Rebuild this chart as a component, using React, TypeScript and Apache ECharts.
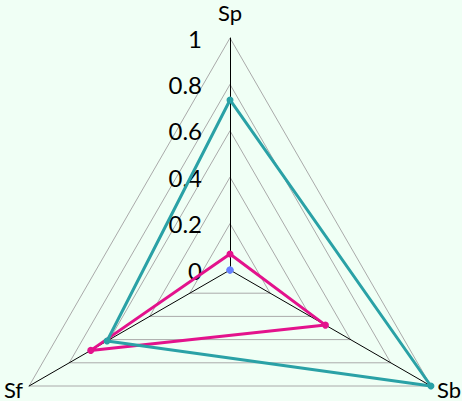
import React, { useEffect, useRef } from "react";
import * as echarts from "echarts";

const indicators = ["Sp", "Sf", "Sb"];
const tealValues = [0.733, 0.612, 1.0];
const magentaValues = [0.069, 0.693, 0.475];
const blueValues = [0, 0, 0];

export default function App() {
  const ref = useRef<HTMLDivElement>(null);
  useEffect(() => {
    document.body.style.margin = "0";
    const chart = echarts.init(ref.current!, null, { renderer: "svg" });
    chart.setOption({
      animation: false,
      backgroundColor: "#f0fff5",
      grid: { left: 230, top: 38, width: 10, height: 232, containLabel: false },
      xAxis: { type: "value", show: false },
      yAxis: {
        type: "value",
        min: 0,
        max: 1,
        interval: 0.2,
        axisLine: { show: false },
        axisTick: { show: false },
        splitLine: { show: false },
        axisLabel: {
          color: "#000",
          fontSize: 24,
          fontFamily: "Lato",
          margin: 28,
          formatter: (v: number) => String(Math.round(v * 10) / 10),
        },
      },
      radar: {
        center: [230, 270],
        radius: 232,
        startAngle: 90,
        splitNumber: 5,
        shape: "polygon",
        nameGap: 8,
        axisName: { color: "#000", fontSize: 22, lineHeight: 21, fontFamily: "Lato" },
        axisLine: { lineStyle: { color: "#000", width: 1 } },
        splitLine: { lineStyle: { color: "#aaaaaa", width: 1 } },
        splitArea: { show: false },
        axisTick: { show: false },
        axisLabel: { show: false },
        indicator: indicators.map((name, i) => ({
          name,
          min: 0,
          max: 1,
          nameGap: i === 0 ? 15 : 7,
        })),
      },
      series: [
        {
          type: "radar",
          symbol: "circle",
          symbolSize: 7,
          data: [
            {
              value: magentaValues,
              lineStyle: { color: "#e3128c", width: 3 },
              itemStyle: { color: "#e3128c" },
            },
            {
              value: tealValues,
              lineStyle: { color: "#2aa1a6", width: 3 },
              itemStyle: { color: "#2aa1a6" },
            },
            {
              value: blueValues,
              lineStyle: { color: "#6680ff", width: 3 },
              itemStyle: { color: "#6680ff" },
            },
          ],
        },
      ],
    });
    return () => chart.dispose();
  }, []);
  return <div ref={ref} style={{ width: 462, height: 401 }} />;
}
